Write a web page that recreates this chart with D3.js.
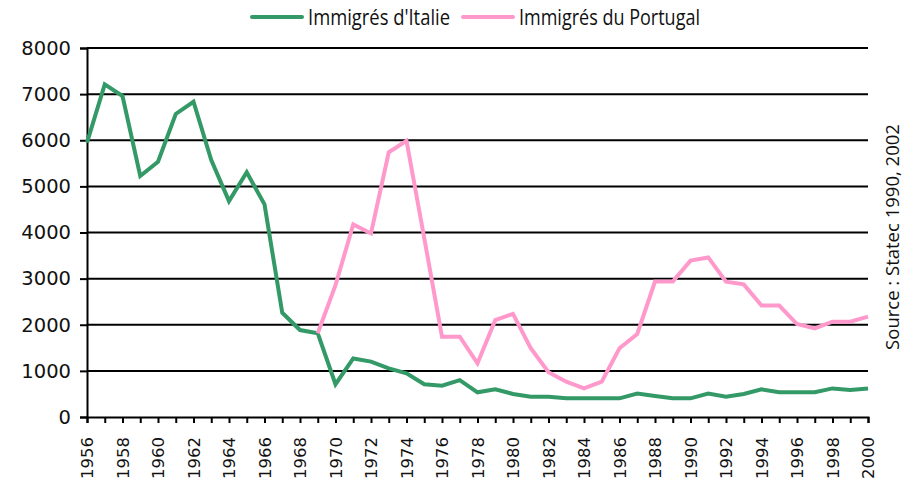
<!DOCTYPE html>
<html>
<head>
<meta charset="utf-8">
<script src="https://cdn.jsdelivr.net/npm/d3@7"></script>
<style>
  html, body { margin: 0; padding: 0; background: #fff; }
  svg { display: block; }
</style>
</head>
<body>
<svg id="chart" width="913" height="480"></svg>
<script>
// Immigration to Luxembourg, by country of origin
const years = d3.range(1956, 2001);

const italie = [
  5950, 7210, 6960, 5225, 5535, 6570, 6835, 5570, 4680, 5305,
  4610, 2260, 1885, 1815, 710, 1270, 1200, 1055, 945, 710,
  680, 800, 535, 600, 500, 440, 440, 405, 405, 405,
  405, 510, 455, 405, 405, 510, 440, 500, 600, 535,
  535, 535, 620, 585, 620
];

const portugalYears = d3.range(1969, 2001);
const portugal = [
  1815, 2860, 4175, 3980, 5740, 5990, 3880, 1740, 1740, 1165,
  2100, 2235, 1490, 970, 765, 620, 765, 1490, 1800, 2935,
  2935, 3390, 3460, 2935, 2875, 2415, 2415, 2015, 1920, 2065,
  2065, 2175
];

const yTicks = [0, 1000, 2000, 3000, 4000, 5000, 6000, 7000, 8000];
const xLabelYears = d3.range(1956, 2001, 2);

const seriesNames = ["Immigrés d'Italie", "Immigrés du Portugal"];
const seriesColors = ["#339966", "#ff99cc"];
const sourceText = "Source : Statec 1990, 2002";

const svg = d3.select("#chart");
const plotLeft = 87, plotRight = 868, plotTop = 48, plotBottom = 417;

const x = d3.scaleLinear().domain([1956, 2000]).range([plotLeft, plotRight]);
const y = d3.scaleLinear().domain([0, 8000]).range([plotBottom, plotTop]);

// horizontal gridlines
svg.append("g")
  .selectAll("line")
  .data(yTicks.filter(d => d > 0))
  .join("line")
  .attr("x1", plotLeft).attr("x2", plotRight)
  .attr("y1", d => y(d)).attr("y2", d => y(d))
  .attr("stroke", "#000").attr("stroke-width", 2);

// y axis
const yAxis = d3.axisLeft(y).tickValues(yTicks).tickSize(7).tickPadding(9).tickFormat(d3.format("d"));
const gy = svg.append("g").attr("transform", `translate(${plotLeft},0)`).call(yAxis);
gy.select(".domain").attr("stroke", "#000").attr("stroke-width", 2);
gy.selectAll(".tick line").attr("stroke", "#000").attr("stroke-width", 2);
gy.selectAll(".tick text")
  .attr("font-family", "DejaVu Sans")
  .attr("font-size", 19.5)
  .attr("fill", "#111");

// x axis: a tick every year, labels on even years
const xAxis = d3.axisBottom(x).tickValues(years).tickSize(6).tickFormat(d => xLabelYears.includes(d) ? d : "");
const gx = svg.append("g").attr("transform", `translate(0,${plotBottom})`).call(xAxis);
gx.select(".domain").attr("stroke", "#000").attr("stroke-width", 2);
gx.selectAll(".tick line").attr("stroke", "#000").attr("stroke-width", 2);
gx.selectAll(".tick text")
  .attr("font-family", "DejaVu Sans")
  .attr("font-size", 16.5)
  .attr("fill", "#111")
  .attr("text-anchor", "end")
  .attr("transform", "translate(0,20) rotate(-90)")
  .attr("x", 0).attr("y", 0).attr("dy", "0.36em");

// series lines
const line = d3.line().x(d => x(d[0])).y(d => y(d[1]));
svg.append("path")
  .datum(years.map((yr, i) => [yr, italie[i]]))
  .attr("d", line)
  .attr("fill", "none")
  .attr("stroke", seriesColors[0])
  .attr("stroke-width", 4)
  .attr("stroke-linejoin", "miter");
svg.append("path")
  .datum(portugalYears.map((yr, i) => [yr, portugal[i]]))
  .attr("d", line)
  .attr("fill", "none")
  .attr("stroke", seriesColors[1])
  .attr("stroke-width", 4)
  .attr("stroke-linejoin", "miter");

// legend
const legendItems = [
  { name: seriesNames[0], color: seriesColors[0], x: 252, len: 142 },
  { name: seriesNames[1], color: seriesColors[1], x: 463, len: 181 }
];
const lg = svg.append("g");
legendItems.forEach(it => {
  lg.append("line")
    .attr("x1", it.x).attr("x2", it.x + 50)
    .attr("y1", 17).attr("y2", 17)
    .attr("stroke", it.color).attr("stroke-width", 4)
    .attr("stroke-linecap", "round");
  lg.append("text")
    .attr("x", it.x + 56).attr("y", 17)
    .attr("dy", "0.36em")
    .attr("font-family", "Open Sans")
    .attr("font-size", 21)
    .attr("fill", "#111")
    .attr("textLength", it.len)
    .attr("lengthAdjust", "spacingAndGlyphs")
    .text(it.name);
});

// source note
svg.append("text")
  .attr("transform", "translate(892,237) rotate(-90)")
  .attr("text-anchor", "middle")
  .attr("dy", "0.36em")
  .attr("font-family", "Open Sans")
  .attr("font-size", 18.5)
  .attr("fill", "#111")
  .text(sourceText);
</script>
</body>
</html>
